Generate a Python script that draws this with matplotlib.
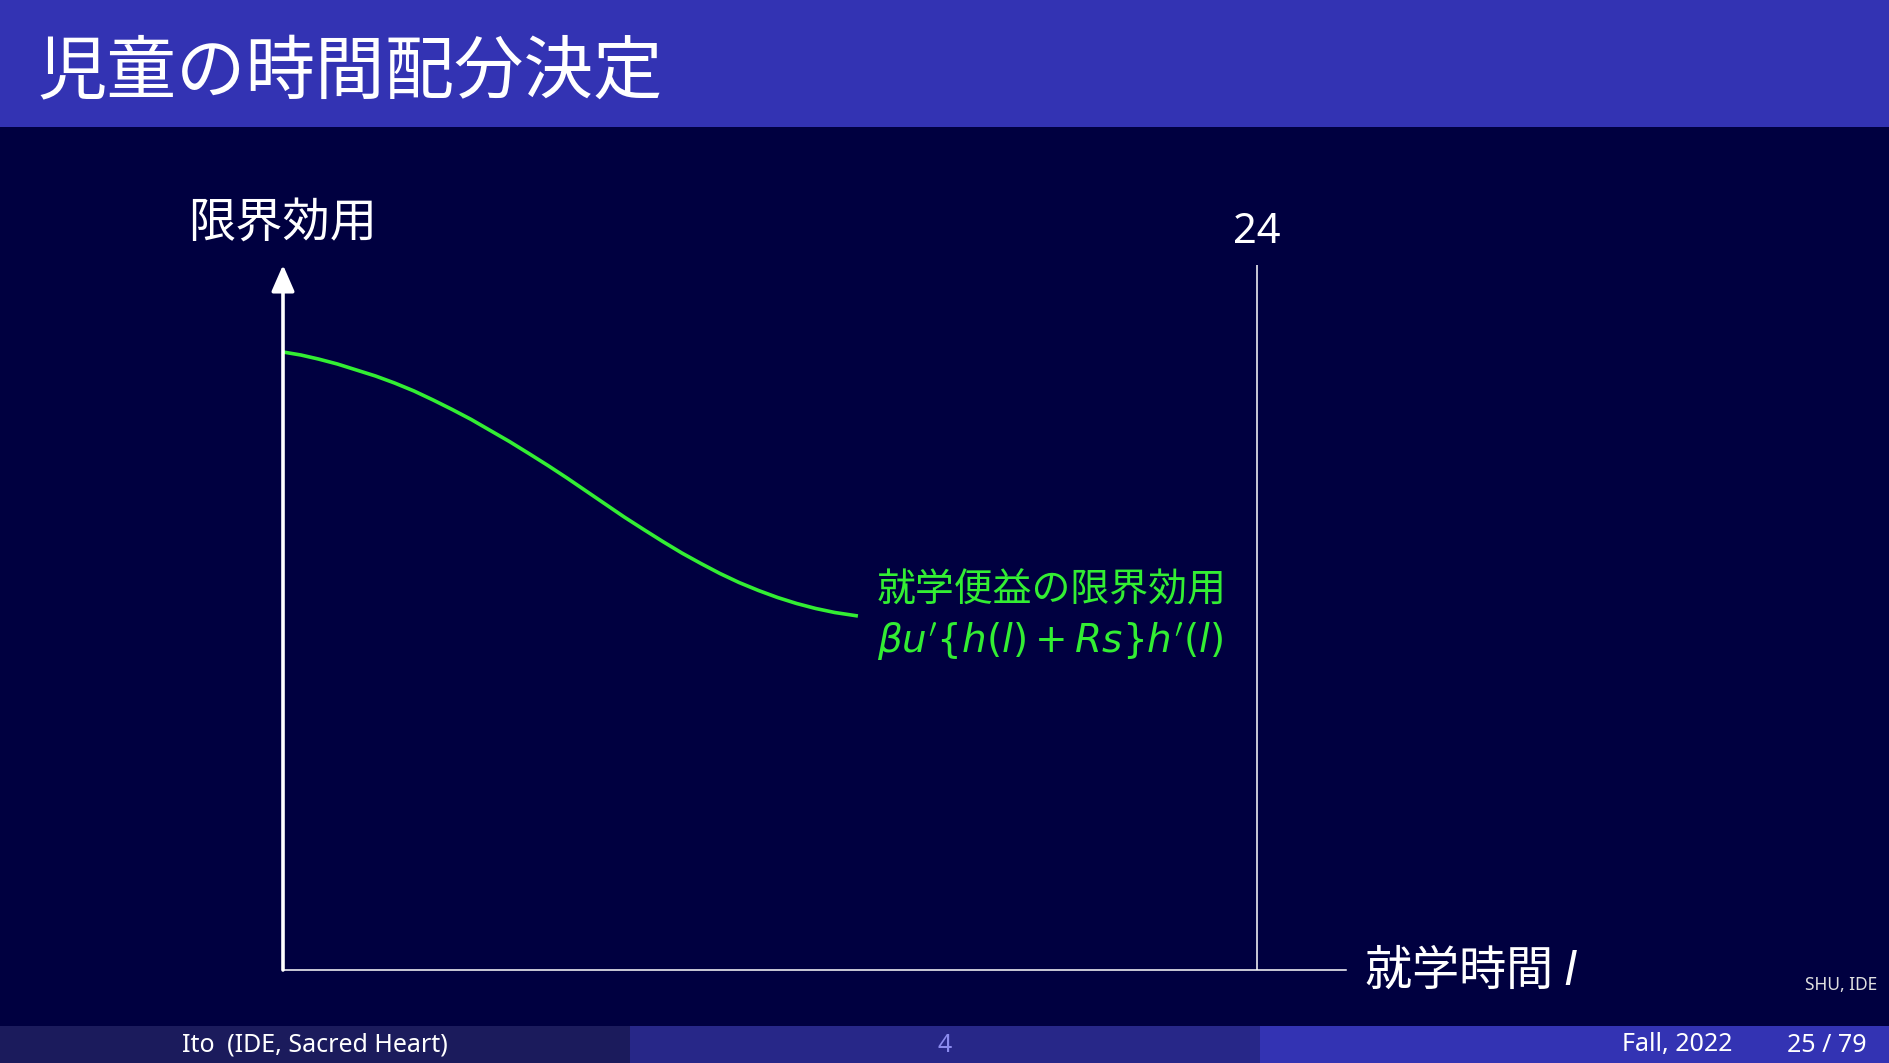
import numpy as np
import matplotlib
matplotlib.use('Agg')
import matplotlib.pyplot as plt
from matplotlib.patches import Rectangle

plt.rcParams['font.family'] = ['Noto Sans CJK JP', 'DejaVu Sans']
plt.rcParams['mathtext.fontset'] = 'dejavusans'

# ---------- data ----------
hours = [0.0, 0.44, 0.87, 1.34, 1.81, 2.28, 2.75, 3.23, 3.70, 4.17, 4.64,
         5.11, 5.58, 6.06, 6.53, 7.00, 7.47, 7.94, 8.41, 8.89, 9.36,
         9.83, 10.30, 10.77, 11.24, 11.72, 12.19, 12.66, 13.13, 13.60, 14.17]
mu_school = [6.18, 6.15, 6.11, 6.06, 6.00, 5.94, 5.87, 5.79, 5.70, 5.605, 5.505,
             5.395, 5.285, 5.165, 5.045, 4.92, 4.79, 4.66, 4.53, 4.405, 4.285,
             4.17, 4.065, 3.965, 3.875, 3.795, 3.725, 3.665, 3.615, 3.575, 3.54]
t_max = 24
x_end, y_end = 26.2, 7.05

title = '児童の時間配分決定'
ylabel = '限界効用'
xlabel = '就学時間 $l$'
curve_label = '就学便益の限界効用'
curve_formula = r'$\beta u^{\prime}\{h(l)+Rs\}h^{\prime}(l)$'
footer_left = 'Ito\u2002(IDE, Sacred Heart)'
footer_mid = '4'
footer_date = 'Fall, 2022'
footer_page = '25 / 79'
corner = 'SHU, IDE'

BG = '#000040'
HEAD = '#3333b3'
GREEN = '#33ee33'

W, H = 1889, 1063
fig = plt.figure(figsize=(W / 100, H / 100), dpi=100, facecolor=BG)

def fx(px):
    return px / W

def fy(py):
    return 1 - py / H

# header and footer bands
fig.add_artist(Rectangle((0, fy(127)), 1, 127 / H, transform=fig.transFigure,
                         color=HEAD, lw=0, zorder=0))
for x0, c in [(0, '#1b1b5c'), (630, '#272788'), (1260, HEAD)]:
    fig.add_artist(Rectangle((fx(x0), 0), 630 / W, 37 / H, transform=fig.transFigure,
                             color=c, lw=0, zorder=0))

fig.text(fx(38), fy(73), title, color='white', fontsize=50, va='center', ha='left')

foot = dict(fontsize=18, va='center', family=['Noto Sans', 'DejaVu Sans'])
fig.text(fx(315), fy(1045), footer_left, color='white', ha='center', **foot)
fig.text(fx(945), fy(1045), footer_mid, color='#8a8aee', ha='center', **foot)
fig.text(fx(1677), fy(1045), footer_date, color='white', ha='center', **foot)
fig.text(fx(1867), fy(1045), footer_page, color='white', ha='right', **foot)
fig.text(fx(1877), fy(985), corner, color='#e0e0e0', fontsize=12.5,
         ha='right', va='center', family=['Noto Sans', 'DejaVu Sans'])

# ---------- chart ----------
ax = fig.add_axes([fx(283), fy(970), fx(1346 - 283), (970 - 265) / H])
ax.set_facecolor('none')
ax.set_xlim(0, x_end)
ax.set_ylim(0, y_end)
for s in ['top', 'right', 'left']:
    ax.spines[s].set_visible(False)
ax.spines['bottom'].set_color('white')
ax.spines['bottom'].set_linewidth(1.1)
ax.set_xticks([])
ax.set_yticks([])

ax.annotate('', xy=(0, 1), xytext=(0, 0), xycoords='axes fraction',
            arrowprops=dict(arrowstyle='-|>,head_length=0.8,head_width=0.35',
                            color='white', lw=2.6, mutation_scale=20,
                            shrinkA=0, shrinkB=0))
ax.axvline(t_max, ymin=0, ymax=1.003, color='white', lw=1.1)

ax.plot(hours, mu_school, color=GREEN, lw=2.6, solid_capstyle='butt',
        solid_joinstyle='round', clip_on=False)

ax.text(t_max, 7.38, str(t_max), color='white', fontsize=30, ha='center', va='center',
        family=['Noto Sans', 'DejaVu Sans'])
ax.text(0, 7.47, ylabel, color='white', fontsize=34, ha='center', va='center')
ax.text(26.64, -0.02, xlabel, color='white', fontsize=34, ha='left', va='center')

ax.text(14.64, 3.80, curve_label, color=GREEN, fontsize=28, ha='left', va='center')
ax.text(14.64, 3.28, curve_formula, color=GREEN, fontsize=28, ha='left', va='center')

plt.savefig('out.png', dpi=100, facecolor=BG)
plt.close()
